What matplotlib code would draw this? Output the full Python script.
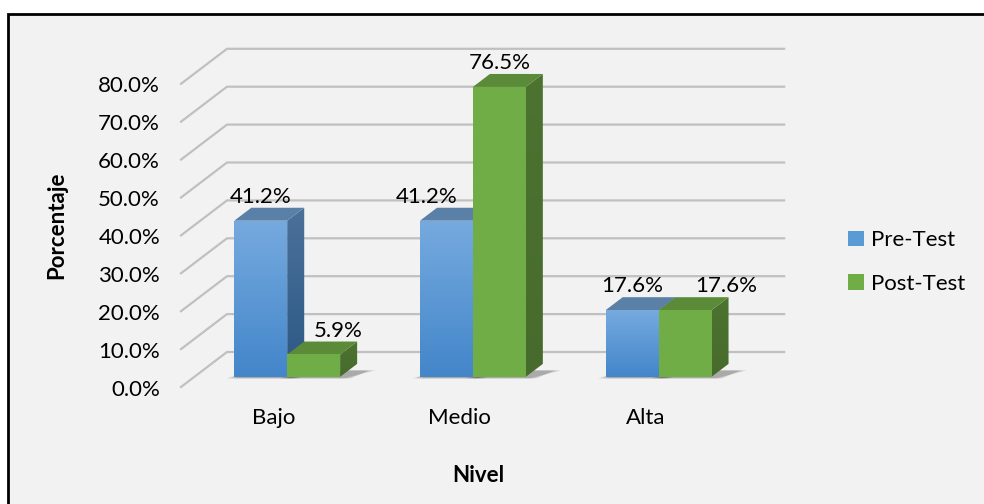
import numpy as np
import matplotlib
matplotlib.use("Agg")
import matplotlib.pyplot as plt
from matplotlib.patches import Polygon, Rectangle, Patch

plt.rcParams['font.family'] = ['Lato', 'DejaVu Sans']

niveles = ["Bajo", "Medio", "Alta"]
series = ["Pre-Test", "Post-Test"]
pre_test = [41.2, 41.2, 17.6]
post_test = [5.9, 76.5, 17.6]
ticks = [0, 10, 20, 30, 40, 50, 60, 70, 80]

# sideways nudges (px) of the value labels so they don't run into neighbours
label_shift = {"Pre-Test": [0, -20, 0], "Post-Test": [25, 0, 41]}

# pixel scale of the pseudo-3D floor (px per category, px per percent)
PX = 185.7
PY = 3.79
X0, Y0 = 181, 387
DX = 46 / PX          # full depth of the wall, in category units
DY = 35 / PY          # full depth of the wall, in percent
F0, F1 = 0.29, 0.66   # front / back of the bars as a fraction of the depth
W = 0.285             # bar width
FS = 16

face = {
    "Pre-Test": dict(front=("#76AADF", "#4386CA"), side=("#4B7199", "#2C5886"), top="#5A80A8"),
    "Post-Test": dict(front=("#70AD47", "#70AD47"), side=("#4C7330", "#476B2C"), top="#5B8A38"),
}

fig = plt.figure(figsize=(9.84, 5.04), dpi=100)
fig.patch.set_facecolor("white")
fig.patches.append(Rectangle((8 / 984, -0.02), 1.0, 1 - 14 / 504 + 0.02,
                             transform=fig.transFigure, facecolor="#F2F2F2",
                             edgecolor="black", lw=2, zorder=-10))

ax = fig.add_axes([150 / 984, 104 / 504, 650 / 984, 370 / 504])
ax.set_xlim((150 - X0) / PX, (800 - X0) / PX)
ax.set_ylim((Y0 - 400) / PY, (Y0 - 30) / PY)
ax.axis("off")


def grad_fill(poly, c_top, c_bot, z):
    xs, ys = poly[:, 0], poly[:, 1]
    patch = Polygon(poly, closed=True, facecolor="none", edgecolor="none")
    ax.add_patch(patch)
    cols = np.array([matplotlib.colors.to_rgb(c_top), matplotlib.colors.to_rgb(c_bot)])
    t = np.linspace(0, 1, 64)[:, None]
    img = (cols[0] * (1 - t) + cols[1] * t)[:, None, :]
    im = ax.imshow(img, extent=(xs.min(), xs.max(), ys.min(), ys.max()),
                   aspect="auto", origin="upper", zorder=z, interpolation="bilinear")
    im.set_clip_path(patch)


# gridlines: back wall and left side wall
for v in ticks:
    ax.plot([0, DX, 3 + DX], [v, v + DY, v + DY], color="#C0C0C0", lw=1.6,
            zorder=1, solid_joinstyle="miter")
    ax.text(-0.113, v - 0.7, f"{v:.1f}%", ha="right", va="center", fontsize=FS)

z = 3
for i, nivel in enumerate(niveles):
    cx = i + 0.5 + F0 * DX
    for j, (name, vals) in enumerate(zip(series, [pre_test, post_test])):
        v = vals[i]
        xl = cx - W + j * W
        xr = xl + W
        yb = F0 * DY
        dx, dy = (F1 - F0) * DX, (F1 - F0) * DY
        # soft floor shadow
        for k, a in enumerate([0.10, 0.10, 0.12]):
            s = 0.02 * (3 - k)
            shadow = np.array([[xl - 0.06 + s, yb - 0.4], [xr + s, yb - 0.4],
                               [xr + dx + 0.12 - s, yb + dy * 0.5], [xl + dx, yb + dy * 0.5]])
            ax.add_patch(Polygon(shadow, closed=True, facecolor="black",
                                 edgecolor="none", alpha=a, zorder=2))
        c = face[name]
        side = np.array([[xr, yb], [xr + dx, yb + dy], [xr + dx, yb + dy + v], [xr, yb + v]])
        grad_fill(side, c["side"][0], c["side"][1], z)
        top = np.array([[xl, yb + v], [xr, yb + v], [xr + dx, yb + dy + v], [xl + dx, yb + dy + v]])
        ax.add_patch(Polygon(top, closed=True, facecolor=c["top"], edgecolor="none", zorder=z))
        front = np.array([[xl, yb], [xr, yb], [xr, yb + v], [xl, yb + v]])
        grad_fill(front, c["front"][0], c["front"][1], z)
        z += 1
        lx = (xl + xr) / 2 + label_shift[name][i] / PX
        ax.text(lx, v + F1 * DY + 2.9, f"{v:.1f}%", ha="center", va="center",
                fontsize=FS, zorder=20)
    ax.text(i + 0.5, (Y0 - 418) / PY, nivel, ha="center", va="center", fontsize=FS)

fig.text(478 / 984, 1 - 475 / 504, "Nivel", ha="center", va="center",
         fontsize=FS, fontweight="bold")
fig.text(57 / 984, 1 - 225 / 504, "Porcentaje", ha="center", va="center",
         fontsize=FS, fontweight="bold", rotation=90)

handles = [Patch(facecolor="#5B9BD5"), Patch(facecolor="#70AD47")]
fig.legend(handles, series, loc="center left", bbox_to_anchor=(828 / 984, 1 - 262 / 504),
           frameon=False, handlelength=0.7, handleheight=0.7, handletextpad=0.35,
           labelspacing=1.05, fontsize=FS)

fig.savefig("out.png", dpi=100)
